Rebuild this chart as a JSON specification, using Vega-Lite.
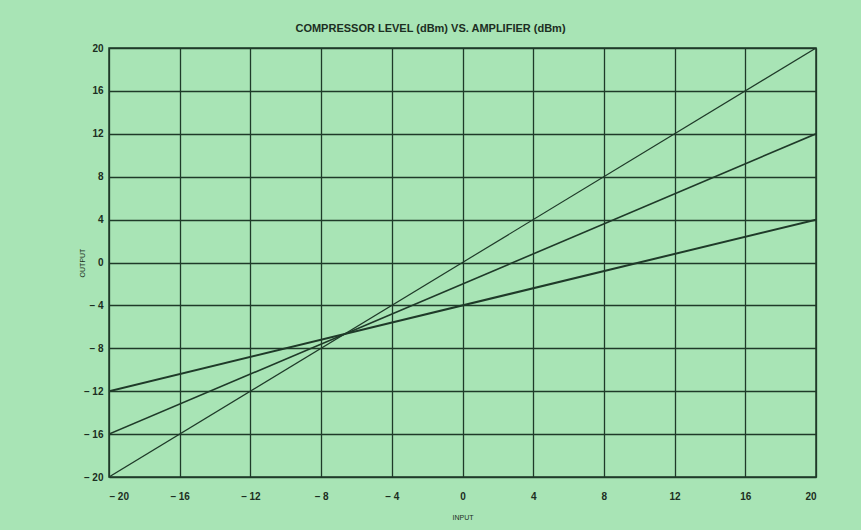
{
  "$schema": "https://vega.github.io/schema/vega-lite/v6.json",
  "width": 707,
  "height": 429,
  "autosize": {"type": "none"},
  "padding": {"left": 109, "top": 48, "right": 45, "bottom": 53},
  "background": "#a8e4b5",
  "title": {
    "text": "COMPRESSOR LEVEL (dBm) VS. AMPLIFIER (dBm)",
    "font": "Liberation Sans",
    "fontSize": 11,
    "fontWeight": "bold",
    "color": "#1c2e22",
    "offset": 9,
    "dx": -32
  },
  "config": {
    "view": {"stroke": "#1f3a29", "strokeWidth": 1.5, "fill": "#a8e4b5"},
    "axis": {
      "labelFont": "Liberation Sans",
      "labelFontSize": 10,
      "labelFontWeight": "bold",
      "labelColor": "#1c2e22",
      "titleFont": "Liberation Sans",
      "titleFontSize": 7,
      "titleFontWeight": "normal",
      "titleColor": "#1c2e22",
      "gridColor": "#1f3a29",
      "gridOpacity": 1,
      "gridWidth": 1.3,
      "domain": false,
      "ticks": false
    }
  },
  "data": {
    "values": [
      {"series": "A", "input": -20, "output": -20},
      {"series": "A", "input": 20, "output": 20},
      {"series": "B", "input": -20, "output": -16},
      {"series": "B", "input": 20, "output": 12},
      {"series": "C", "input": -20, "output": -12},
      {"series": "C", "input": 20, "output": 4}
    ]
  },
  "mark": {"type": "line", "color": "#1f3a29", "clip": true},
  "encoding": {
    "x": {
      "field": "input",
      "type": "quantitative",
      "scale": {"domain": [-20, 20], "nice": false},
      "axis": {
        "values": [-20, -16, -12, -8, -4, 0, 4, 8, 12, 16, 20],
        "title": "INPUT",
        "titlePadding": 12,
        "labelPadding": 14,
        "labelExpr": "datum.value < 0 ? '– ' + abs(datum.value) : datum.value"
      }
    },
    "y": {
      "field": "output",
      "type": "quantitative",
      "scale": {"domain": [-20, 20], "nice": false},
      "axis": {
        "values": [-20, -16, -12, -8, -4, 0, 4, 8, 12, 16, 20],
        "title": "OUTPUT",
        "titleX": -24,
        "labelPadding": 6,
        "labelExpr": "datum.value < 0 ? '– ' + abs(datum.value) : datum.value"
      }
    },
    "detail": {"field": "series"},
    "strokeWidth": {
      "field": "series",
      "type": "nominal",
      "scale": {"domain": ["A", "B", "C"], "range": [1.2, 2, 2]},
      "legend": null
    }
  }
}
